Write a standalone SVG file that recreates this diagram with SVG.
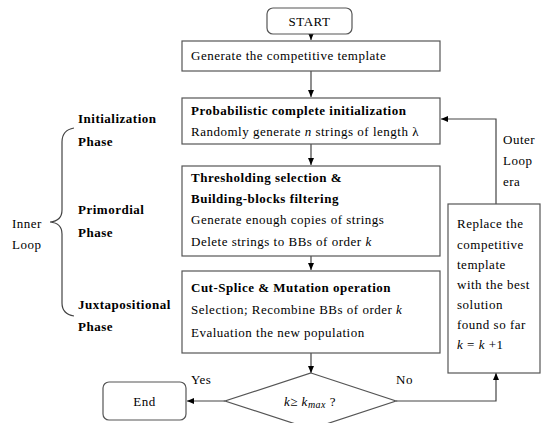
<svg xmlns="http://www.w3.org/2000/svg" width="541" height="423" viewBox="0 0 541 423">
<defs>
<marker id="ah" markerWidth="8" markerHeight="8" refX="7" refY="4" orient="auto" markerUnits="userSpaceOnUse">
<path d="M0,1 L7,4 L0,7 Z" fill="#000"/>
</marker>
<style>
text{font-family:"Liberation Serif","Times New Roman",serif;font-size:13px;fill:#000;letter-spacing:0.5px}
.b{font-weight:bold}
.box{fill:#fff;stroke:#555;stroke-width:1.2}
.ln{fill:none;stroke:#444;stroke-width:1.2}
.it{font-style:italic}
</style>
</defs>
<rect width="541" height="423" fill="#fff"/>
<g id="connectors">
<line class="ln" x1="311" y1="34" x2="311" y2="40" marker-end="url(#ah)"/>
<line class="ln" x1="311" y1="71" x2="311" y2="97" marker-end="url(#ah)"/>
<line class="ln" x1="311" y1="144" x2="311" y2="165" marker-end="url(#ah)"/>
<line class="ln" x1="311" y1="256" x2="311" y2="270" marker-end="url(#ah)"/>
<line class="ln" x1="311" y1="353" x2="311" y2="373" marker-end="url(#ah)"/>
<line class="ln" x1="225" y1="401" x2="187" y2="401" marker-end="url(#ah)"/>
<polyline class="ln" points="396,401 496,401 496,373" marker-end="url(#ah)"/>
<polyline class="ln" points="496,204 496,119 441,119" marker-end="url(#ah)"/>
<path class="ln" d="M74,128 Q62,130 62,142 L62,210 Q62,221 50,222 Q62,223 62,234 L62,303 Q62,314 74,316"/>
</g>
<g id="start">
<rect class="box" x="267" y="8" width="85" height="26" rx="6"/>
<text x="309.5" y="26" text-anchor="middle">START</text>
</g>
<g id="generate">
<rect class="box" x="182" y="41" width="258" height="30"/>
<text x="191" y="60">Generate the competitive template</text>
</g>
<g id="init">
<rect class="box" x="182" y="98" width="258" height="46"/>
<text class="b" x="191" y="115">Probabilistic complete initialization</text>
<text x="191" y="136">Randomly generate <tspan class="it">n</tspan> strings of length λ</text>
</g>
<g id="threshold">
<rect class="box" x="182" y="166" width="258" height="90"/>
<text class="b" x="191" y="182">Thresholding selection &amp;</text>
<text class="b" x="191" y="203">Building-blocks filtering</text>
<text x="191" y="224">Generate enough copies of strings</text>
<text x="191" y="246">Delete strings to BBs of order <tspan class="it">k</tspan></text>
</g>
<g id="cutsplice">
<rect class="box" x="182" y="271" width="258" height="82"/>
<text class="b" x="191" y="292">Cut-Splice &amp; Mutation operation</text>
<text x="191" y="314">Selection; Recombine BBs of order <tspan class="it">k</tspan></text>
<text x="191" y="337">Evaluation the new population</text>
</g>
<g id="decision">
<polygon class="box" points="311,373 396,401 311,429 225,401"/>
<text x="310" y="406" text-anchor="middle"><tspan class="it">k</tspan>≥ <tspan class="it">k</tspan><tspan class="it" font-size="10" dy="2">max</tspan><tspan dy="-2"> ?</tspan></text>
</g>
<g id="end">
<rect class="box" x="103" y="382" width="83" height="38" rx="6"/>
<text x="144.5" y="406" text-anchor="middle">End</text>
</g>
<g id="replace">
<rect class="box" x="448" y="204" width="92" height="169"/>
<text x="457" y="228">Replace the</text>
<text x="457" y="249">competitive</text>
<text x="457" y="269">template</text>
<text x="457" y="289">with the best</text>
<text x="457" y="309">solution</text>
<text x="457" y="329">found so far</text>
<text x="457" y="349"><tspan class="it">k</tspan> = <tspan class="it">k</tspan> +1</text>
</g>
<g id="labels">
<text x="191" y="384">Yes</text>
<text x="396" y="384">No</text>
<text x="503" y="144">Outer</text>
<text x="503" y="165">Loop</text>
<text x="503" y="186">era</text>
<text x="12" y="228">Inner</text>
<text x="12" y="249">Loop</text>
<text class="b" x="78" y="123">Initialization</text>
<text class="b" x="78" y="146">Phase</text>
<text class="b" x="78" y="214">Primordial</text>
<text class="b" x="78" y="237">Phase</text>
<text class="b" x="78" y="309">Juxtapositional</text>
<text class="b" x="78" y="331">Phase</text>
</g>
</svg>
